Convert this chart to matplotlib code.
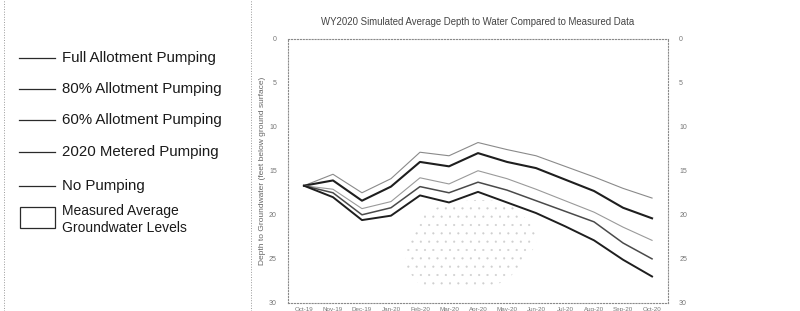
import matplotlib.pyplot as plt
from matplotlib.lines import Line2D
from matplotlib.patches import Rectangle

# Month labels along the bottom (water year 2020)
months = ['Oct-19', 'Nov-19', 'Dec-19', 'Jan-20', 'Feb-20', 'Mar-20', 'Apr-20',
          'May-20', 'Jun-20', 'Jul-20', 'Aug-20', 'Sep-20', 'Oct-20']

# Simulated depth to water (feet below ground surface)
no_pumping = [16.7, 15.4, 17.5, 15.9, 12.9, 13.3, 11.8, 12.6, 13.3, 14.5, 15.7, 17.0, 18.1]
metered_2020 = [16.7, 16.1, 18.4, 16.8, 14.0, 14.5, 13.0, 14.0, 14.7, 16.0, 17.3, 19.2, 20.4]
allot_60 = [16.7, 17.1, 19.3, 18.5, 15.8, 16.5, 15.0, 15.9, 17.1, 18.4, 19.7, 21.4, 22.9]
allot_80 = [16.7, 17.5, 20.0, 19.2, 16.8, 17.5, 16.3, 17.2, 18.4, 19.6, 20.8, 23.2, 25.0]
allot_full = [16.7, 18.0, 20.6, 20.1, 17.8, 18.6, 17.4, 18.6, 19.8, 21.3, 22.9, 25.1, 27.0]

# Measured average groundwater levels (range)
meas_x = [3.5, 4, 5, 6, 7, 8]
meas_top = [23.6, 20.0, 18.6, 18.3, 18.5, 21.5]
meas_bottom = [26.0, 28.0, 28.5, 28.5, 27.5, 23.5]

plt.rcParams['font.family'] = ['Liberation Sans', 'DejaVu Sans']
plt.rcParams['hatch.linewidth'] = 0.3

fig = plt.figure(figsize=(8, 3.11), dpi=100)
ax = fig.add_axes([0.36, 0.026, 0.475, 0.85])

x = list(range(len(months)))

# stippled look of the faded measured-data area
ax.fill_between(meas_x, meas_top, meas_bottom, facecolor='none',
                edgecolor='#cfcfcf', hatch='..', linewidth=0)

ax.plot(x, no_pumping, color='#8a8a8a', lw=0.8)
ax.plot(x, metered_2020, color='#1e1e1e', lw=1.5)
ax.plot(x, allot_60, color='#9a9a9a', lw=0.8)
ax.plot(x, allot_80, color='#4a4a4a', lw=1.1)
ax.plot(x, allot_full, color='#1e1e1e', lw=1.4)

ax.set_ylim(30, 0)
ax.set_xlim(-0.55, 12.55)
ax.set_yticks([0, 5, 10, 15, 20, 25, 30])
ax.set_xticks(x)
ax.set_xticklabels(months)
ax.tick_params(axis='both', length=0, labelsize=4.5, colors='#777777', pad=3)
ax.tick_params(axis='y', labelsize=5, labelright=True, right=False, pad=8)

for side in ['left', 'right', 'top', 'bottom']:
    ax.spines[side].set_linestyle(':')
    ax.spines[side].set_color('#8a8a8a')
    ax.spines[side].set_linewidth(0.8)

ax.set_ylabel('Depth to Groundwater (feet below ground surface)',
              fontsize=6, color='#666666', labelpad=2)
ax.set_title('WY2020 Simulated Average Depth to Water Compared to Measured Data',
             fontsize=6.9, color='#444444', pad=10)

# Legend panel on the left
fig.add_artist(Line2D([4 / 800, 4 / 800], [0, 1], color='#999999', lw=0.7, ls=':'))
fig.add_artist(Line2D([251 / 800, 251 / 800], [0, 1], color='#999999', lw=0.7, ls=':'))

legend_names = ['Full Allotment Pumping', '80% Allotment Pumping', '60% Allotment Pumping',
                '2020 Metered Pumping', 'No Pumping']
legend_y = [58, 89, 120, 152, 186]
for name, yy in zip(legend_names, legend_y):
    fy = 1 - yy / 311
    fig.add_artist(Line2D([19 / 800, 55 / 800], [fy, fy], color='#2a2a2a', lw=0.9))
    fig.text(62 / 800, fy, name, fontsize=10.8, color='#1a1a1a', va='center', ha='left')

fig.add_artist(Rectangle((20 / 800, 1 - 228 / 311), 35 / 800, 21 / 311,
                         facecolor='none', edgecolor='#2a2a2a', lw=0.9))
fig.text(62 / 800, 1 - 211 / 311, 'Measured Average', fontsize=10, color='#1a1a1a', va='center')
fig.text(62 / 800, 1 - 228 / 311, 'Groundwater Levels', fontsize=10, color='#1a1a1a', va='center')

fig.savefig('out.png', dpi=100, facecolor='white')
